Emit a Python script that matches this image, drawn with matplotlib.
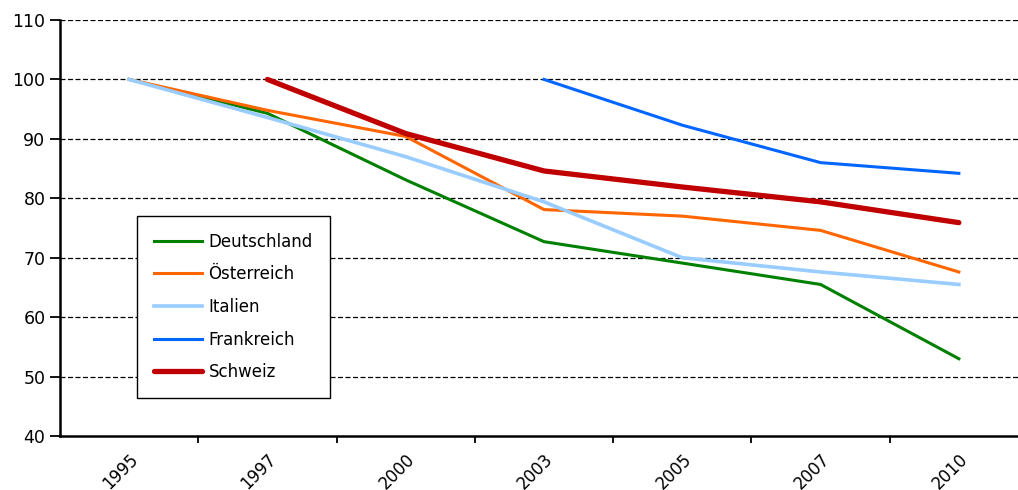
import numpy as np
import matplotlib
matplotlib.use("Agg")
from matplotlib import pyplot as plt

years = ['1995', '1997', '2000', '2003', '2005', '2007', '2010']
x = np.arange(len(years))

deutschland = [100, 94.3, 83.1, 72.7, 69.1, 65.5, 53.0]
oesterreich = [100, 94.8, 90.4, 78.1, 77.0, 74.6, 67.6]
italien = [100, 93.6, 87.0, 79.4, 70.0, 67.6, 65.5]
frankreich = [np.nan, np.nan, np.nan, 100, 92.3, 86.0, 84.2]
schweiz = [np.nan, 100, 90.9, 84.6, 81.9, 79.4, 75.9]

fig = plt.figure(figsize=(10.18, 4.9), dpi=100)
ax = fig.add_axes([60/1018, 54/490, 968/1018, 416/490])

ax.plot(x, deutschland, color='#008000', lw=2.2, label='Deutschland')
ax.plot(x, oesterreich, color='#FF6600', lw=2.2, label='Österreich')
ax.plot(x, italien, color='#99CCFF', lw=2.6, label='Italien')
ax.plot(x, frankreich, color='#0066FF', lw=2.2, label='Frankreich')
ax.plot(x, schweiz, color='#C00000', lw=3.8, label='Schweiz', solid_capstyle='round')

ax.set_xlim(-0.5, 6.5)
ax.set_ylim(40, 110)
ax.set_yticks(range(40, 111, 10))
for v in range(50, 111, 10):
    ax.axhline(v, color='black', lw=0.9, ls=(0, (4, 2)), zorder=0)

ax.set_xticks(x)
ax.set_xticklabels(years, rotation=45, ha='right', rotation_mode='anchor', fontsize=12)
ax.tick_params(axis='x', which='major', length=0, pad=10)
ax.set_xticks(np.arange(0.5, 6.5, 1), minor=True)
ax.tick_params(axis='x', which='minor', length=5, width=1.3, direction='out')
ax.tick_params(axis='y', labelsize=12.5, length=7, width=1.3, direction='out')

for s in ['top', 'right']:
    ax.spines[s].set_visible(False)
for s in ['left', 'bottom']:
    ax.spines[s].set_linewidth(1.8)

leg = ax.legend(loc='upper left', bbox_to_anchor=(0.0795, 0.529), borderaxespad=0,
                fancybox=False, edgecolor='black', fontsize=12, handlelength=2.9,
                labelspacing=0.88, handletextpad=0.4, borderpad=1.0)
leg.get_frame().set_linewidth(1.0)
leg.get_frame().set_alpha(1)

fig.savefig('out.png', dpi=100)
